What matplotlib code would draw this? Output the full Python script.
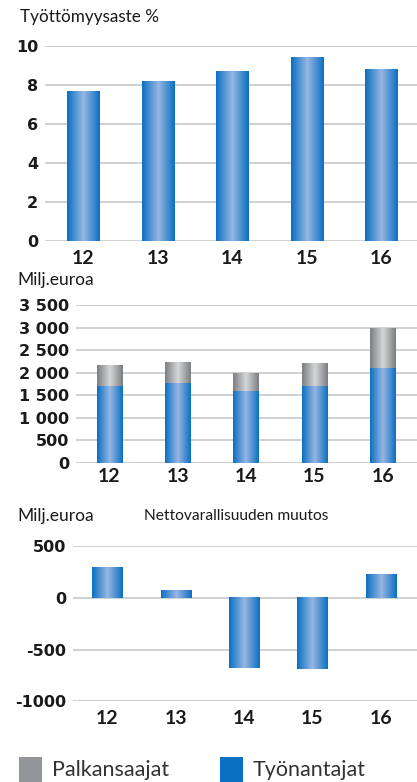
import numpy as np
import matplotlib
matplotlib.use('Agg')
import matplotlib.pyplot as plt
from matplotlib.colors import LinearSegmentedColormap
from matplotlib.patches import Rectangle

plt.rcParams['font.family'] = ['Lato', 'DejaVu Sans']

# Data
vuodet = ['12', '13', '14', '15', '16']
tyottomyys = [7.7, 8.2, 8.7, 9.4, 8.8]
tyonantajat = [1700, 1770, 1590, 1700, 2100]
palkansaajat = [450, 460, 380, 490, 870]
nettovarallisuus = [300, 75, -680, -690, 230]

y1_ticks = [0, 2, 4, 6, 8, 10]
y2_ticks = [0, 500, 1000, 1500, 2000, 2500, 3000, 3500]
y2_labels = ['0', '500', '1 000', '1 500', '2 000', '2 500', '3 000', '3 500']
y3_ticks = [-1000, -500, 0, 500]
y3_labels = ['-1000', '-500', '0', '500']

BLUE_EDGE = '#0a70c2'
BLUE_MID = '#98b6e2'
GRAY_EDGE = '#7c7d80'
GRAY_MID = '#d6d7d9'
GRID = '#c8c8c8'
TXT = '#1a1a1a'

cmap_blue = LinearSegmentedColormap.from_list('b', [BLUE_EDGE, BLUE_MID, BLUE_EDGE])
cmap_gray = LinearSegmentedColormap.from_list('g', [GRAY_EDGE, GRAY_MID, GRAY_EDGE])
grad = np.linspace(0, 1, 128)[None, :]


def gradient_bar(ax, x, bottom, height, width, cmap):
    y0, y1 = sorted([bottom, bottom + height])
    ax.imshow(grad, extent=(x - width / 2, x + width / 2, y0, y1),
              cmap=cmap, aspect='auto', interpolation='bilinear', zorder=3)


def style_axis(ax, ticks, labels, xpad):
    for s in ax.spines.values():
        s.set_visible(False)
    ax.set_yticks(ticks)
    ax.set_yticklabels(labels, fontfamily='DejaVu Sans', fontweight='bold')
    ax.set_xticks(range(len(vuodet)))
    ax.set_xticklabels(vuodet, fontweight='bold')
    ax.tick_params(axis='y', length=0, pad=5, labelsize=11.5, labelcolor=TXT)
    ax.tick_params(axis='x', length=0, pad=xpad, labelsize=14, labelcolor=TXT)
    for t in ticks:
        ax.axhline(t, color=GRID, linewidth=1.2, zorder=1)


fig = plt.figure(figsize=(4.17, 7.82), dpi=100)

# --- Chart 1: Työttömyysaste ---
ax1 = fig.add_axes([0.108, 0.6922, 0.892, 0.2490])
for i, v in enumerate(tyottomyys):
    gradient_bar(ax1, i, 0, v, 0.43, cmap_blue)
ax1.set_xlim(-0.51, 4.48)
ax1.set_ylim(0, 10)
style_axis(ax1, y1_ticks, [str(t) for t in y1_ticks], 7)
fig.text(20 / 417, 1 - 17 / 782, 'Työttömyysaste %', fontsize=12.3,
         color=TXT, va='center', ha='left')

# --- Chart 2: Maksut ---
ax2 = fig.add_axes([0.182, 0.4083, 0.818, 0.2017])
for i in range(len(vuodet)):
    gradient_bar(ax2, i, 0, tyonantajat[i], 0.37, cmap_blue)
    gradient_bar(ax2, i, tyonantajat[i], palkansaajat[i], 0.37, cmap_gray)
ax2.set_xlim(-0.49, 4.50)
ax2.set_ylim(0, 3500)
style_axis(ax2, y2_ticks, y2_labels, 4)
fig.text(17 / 417, 1 - 280 / 782, 'Milj.euroa', fontsize=12.5,
         color=TXT, va='center', ha='left')

# --- Chart 3: Nettovarallisuuden muutos ---
ax3 = fig.add_axes([0.175, 0.1032, 0.825, 0.1982])
for i, v in enumerate(nettovarallisuus):
    gradient_bar(ax3, i, 0, v, 0.44, cmap_blue)
ax3.set_xlim(-0.50, 4.53)
ax3.set_ylim(-1000, 500)
style_axis(ax3, y3_ticks, y3_labels, 6)
fig.text(17 / 417, 1 - 516 / 782, 'Milj.euroa', fontsize=12.5,
         color=TXT, va='center', ha='left')
fig.text(236 / 417, 1 - 516 / 782, 'Nettovarallisuuden muutos', fontsize=11.2,
         color=TXT, va='center', ha='center')

# --- Legend ---
fig.patches.append(Rectangle((19 / 417, 0), 23 / 417, 25 / 782,
                             transform=fig.transFigure, facecolor='#939598',
                             edgecolor='none'))
fig.text(52 / 417, 1 - 770 / 782, 'Palkansaajat', fontsize=15.5,
         color='#333333', va='center', ha='left')
fig.patches.append(Rectangle((220 / 417, 0), 23 / 417, 25 / 782,
                             transform=fig.transFigure, facecolor='#0a70c2',
                             edgecolor='none'))
fig.text(253 / 417, 1 - 770 / 782, 'Työnantajat', fontsize=15.5,
         color='#333333', va='center', ha='left')

fig.savefig('out.png', dpi=100)
